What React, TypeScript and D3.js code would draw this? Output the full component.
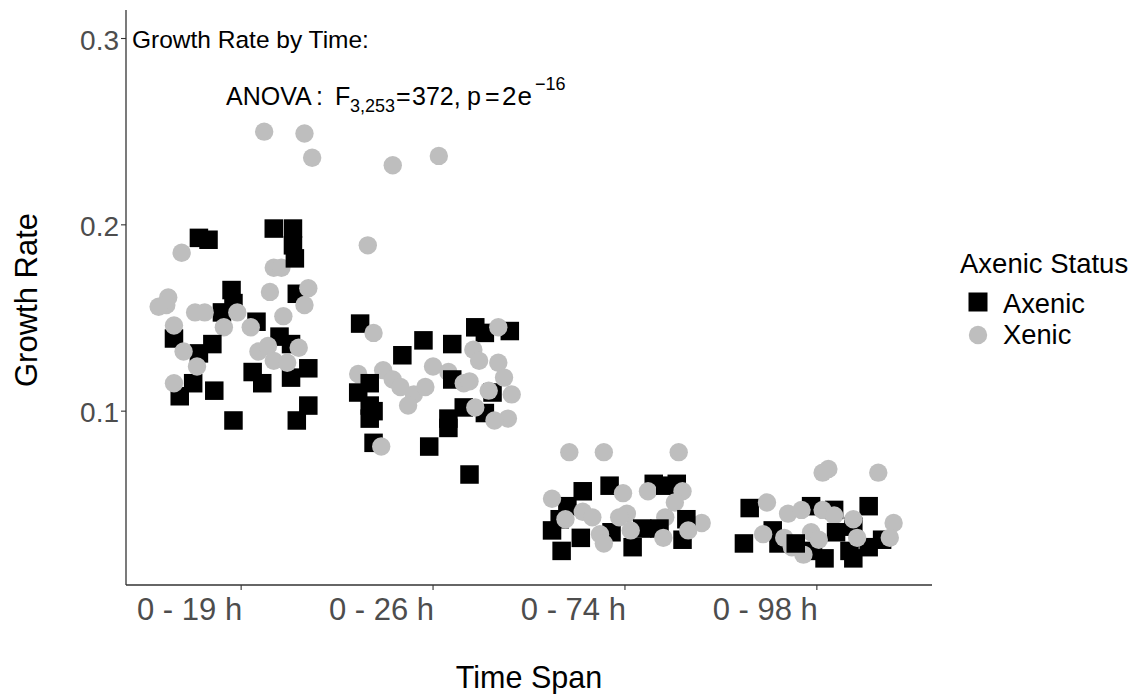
import React from "react";
import * as d3 from "d3";

const categories = ["0 - 19 h", "0 - 26 h", "0 - 74 h", "0 - 98 h"];
const yTicks = [0.1, 0.2, 0.3];
const statusLabels = ["Axenic", "Xenic"];

// [jitter (category units), growth rate]
const axenic19: [number, number][] = [
  [-0.22, 0.193], [-0.17, 0.192], [0.17, 0.198], [0.27, 0.198], [0.27, 0.189], [0.28, 0.182],
  [-0.05, 0.165], [-0.04, 0.158], [-0.1, 0.153], [0.08, 0.148], [0.29, 0.163], [-0.35, 0.139],
  [-0.15, 0.136], [-0.22, 0.131], [0.2, 0.14], [0.26, 0.136], [0.06, 0.121], [0.11, 0.115],
  [-0.25, 0.115], [-0.32, 0.108], [-0.14, 0.111], [0.26, 0.118], [0.35, 0.123], [0.35, 0.103],
  [-0.04, 0.095], [0.29, 0.095],
];
const xenic19: [number, number][] = [
  [0.12, 0.25], [0.33, 0.249], [0.37, 0.236], [-0.31, 0.185], [0.17, 0.177], [0.21, 0.177],
  [-0.38, 0.161], [-0.39, 0.157], [-0.43, 0.156], [-0.24, 0.153], [-0.19, 0.153], [-0.09, 0.145],
  [-0.02, 0.153], [0.15, 0.164], [0.35, 0.166], [0.33, 0.157], [0.22, 0.151], [-0.35, 0.146],
  [-0.3, 0.132], [0.09, 0.132], [0.14, 0.135], [0.17, 0.127], [0.24, 0.126], [0.3, 0.134],
  [-0.23, 0.124], [-0.35, 0.115], [0.05, 0.145],
];
const axenic26: [number, number][] = [
  [-0.38, 0.147], [-0.05, 0.138], [-0.16, 0.13], [0.1, 0.136], [0.22, 0.145], [0.27, 0.142],
  [0.4, 0.143], [-0.33, 0.115], [-0.39, 0.11], [-0.33, 0.103], [-0.31, 0.1], [-0.33, 0.096],
  [0.1, 0.117], [0.31, 0.11], [0.16, 0.102], [0.27, 0.099], [0.08, 0.096], [0.08, 0.091],
  [-0.31, 0.083], [-0.02, 0.081], [0.19, 0.066],
];
const xenic26: [number, number][] = [
  [-0.21, 0.232], [0.03, 0.237], [-0.34, 0.189], [-0.31, 0.142], [-0.39, 0.12], [-0.26, 0.122],
  [-0.21, 0.117], [-0.17, 0.113], [-0.1, 0.109], [-0.13, 0.103], [-0.04, 0.113], [0.0, 0.124],
  [0.08, 0.121], [0.16, 0.115], [0.19, 0.116], [0.21, 0.133], [0.24, 0.127], [0.34, 0.145],
  [0.34, 0.126], [0.37, 0.118], [0.41, 0.109], [0.39, 0.096], [0.32, 0.095], [0.22, 0.102],
  [0.29, 0.111], [-0.27, 0.081],
];
const axenic74: [number, number][] = [
  [-0.22, 0.057], [-0.08, 0.06], [-0.3, 0.049], [0.15, 0.061], [0.27, 0.061], [0.21, 0.06],
  [-0.38, 0.036], [-0.23, 0.032], [-0.33, 0.025], [-0.07, 0.035], [0.04, 0.027], [0.09, 0.037],
  [0.18, 0.037], [0.3, 0.031], [0.32, 0.042], [-0.34, 0.042],
];
const xenic74: [number, number][] = [
  [-0.29, 0.078], [-0.11, 0.078], [0.28, 0.078], [-0.38, 0.053], [-0.01, 0.056], [0.12, 0.057],
  [0.3, 0.057], [0.26, 0.051], [-0.22, 0.046], [-0.17, 0.043], [0.01, 0.045], [-0.03, 0.043],
  [0.21, 0.043], [0.4, 0.04], [-0.13, 0.034], [-0.11, 0.029], [0.03, 0.036], [-0.31, 0.042],
  [0.2, 0.032], [0.33, 0.036],
];
const axenic98: [number, number][] = [
  [-0.35, 0.048], [-0.03, 0.049], [0.09, 0.047], [0.27, 0.049], [-0.38, 0.029], [-0.23, 0.036],
  [-0.2, 0.029], [0.1, 0.035], [0.19, 0.038], [-0.02, 0.025], [0.04, 0.021], [0.17, 0.025],
  [0.19, 0.021], [0.27, 0.027], [0.34, 0.031], [-0.11, 0.029],
];
const xenic98: [number, number][] = [
  [0.06, 0.069], [0.03, 0.067], [0.32, 0.067], [-0.26, 0.051], [-0.15, 0.045], [-0.08, 0.047],
  [0.03, 0.047], [0.09, 0.044], [0.4, 0.04], [-0.28, 0.034], [-0.17, 0.032], [-0.03, 0.035],
  [0.01, 0.031], [-0.13, 0.027], [-0.07, 0.023], [0.19, 0.042], [0.21, 0.032], [0.38, 0.032],
];

const axenicGroups = [axenic19, axenic26, axenic74, axenic98];
const xenicGroups = [xenic19, xenic26, xenic74, xenic98];

const W = 1132;
const H = 694;
const FONT = "'Liberation Sans', Arial, sans-serif";
const BLACK = "#000000";
const GREY = "#BEBEBE";

export default function App() {
  const x = d3.scaleLinear().domain([0.4, 4.6]).range([126, 932]);
  const y = d3.scaleLinear().domain([0.0067, 0.3153]).range([585, 10]);
  const sq = 18.5;
  const r = 9.2;

  type P = { cx: number; cy: number; s: number };
  const pts: P[] = [];
  categories.forEach((_, gi) => {
    const a = axenicGroups[gi];
    const g = xenicGroups[gi];
    const n = Math.max(a.length, g.length);
    for (let i = 0; i < n; i++) {
      if (i < g.length) pts.push({ cx: x(gi + 1 + g[i][0]), cy: y(g[i][1]), s: 1 });
      if (i < a.length) pts.push({ cx: x(gi + 1 + a[i][0]), cy: y(a[i][1]), s: 0 });
    }
  });

  const tickCol = "#333333";
  const labCol = "#4D4D4D";
  const x0 = x(0.4);
  const yb = y(0.0067);

  return (
    <svg width={W} height={H} style={{ position: "absolute", left: 0, top: 0, background: "#fff" }} fontFamily={FONT}>
      <rect width={W} height={H} fill="#fff" />
      {pts.map((p, i) =>
        p.s === 0 ? (
          <rect key={i} x={p.cx - sq / 2} y={p.cy - sq / 2} width={sq} height={sq} fill={BLACK} />
        ) : (
          <circle key={i} cx={p.cx} cy={p.cy} r={r} fill={GREY} />
        )
      )}
      {/* axes */}
      <line x1={x0} x2={x0} y1={y(0.3153)} y2={yb} stroke={tickCol} strokeWidth={1.3} />
      <line x1={x0} x2={x(4.6)} y1={yb} y2={yb} stroke={tickCol} strokeWidth={1.3} />
      {yTicks.map((t) => (
        <g key={t}>
          <line x1={x0 - 5} x2={x0} y1={y(t)} y2={y(t)} stroke={tickCol} strokeWidth={1.1} />
          <text x={x0 - 7} y={y(t) + 11} textAnchor="end" fontSize={28} fill={labCol}>
            {d3.format(".1f")(t)}
          </text>
        </g>
      ))}
      {categories.map((c, i) => (
        <g key={c}>
          <line x1={x(i + 1)} x2={x(i + 1)} y1={yb} y2={yb + 5} stroke={tickCol} strokeWidth={1.1} />
          <text x={x(i + 1) + 1} y={620} textAnchor="end" fontSize={31} fill={labCol}>
            {c}
          </text>
        </g>
      ))}
      <text x={(x0 + x(4.6)) / 2} y={688} textAnchor="middle" fontSize={30.5} fill="#000">
        Time Span
      </text>
      <text transform={`translate(37,300) rotate(-90)`} textAnchor="middle" fontSize={31} fill="#000">
        Growth Rate
      </text>
      {/* annotation */}
      <text x={132} y={48} fontSize={24.5} fill="#000">Growth Rate by Time:</text>
      <g fontSize={25} fill="#000">
        <text x={226} y={105}>ANOVA</text>
        <text x={316} y={105}>:</text>
        <text x={335} y={105}>F</text>
        <text x={350} y={112} fontSize={18}>3,253</text>
        <text x={396} y={105}>=</text>
        <text x={412} y={105}>372,</text>
        <text x={467} y={105}>p</text>
        <text x={485} y={105}>=</text>
        <text x={502} y={105} fontSize={26} letterSpacing={1}>2e</text>
        <text x={535} y={90} fontSize={18}>−16</text>
      </g>
      {/* legend */}
      <text x={960} y={273} fontSize={27.5} fill="#000">Axenic Status</text>
      {statusLabels.map((s, i) => (
        <g key={s}>
          {i === 0 ? (
            <rect x={978 - 9.5} y={302 - 9.5} width={19} height={19} fill={BLACK} />
          ) : (
            <circle cx={978} cy={335} r={9.2} fill={GREY} />
          )}
          <text x={1003} y={313 + i * 31} fontSize={27.3} fill="#000">{s}</text>
        </g>
      ))}
    </svg>
  );
}
